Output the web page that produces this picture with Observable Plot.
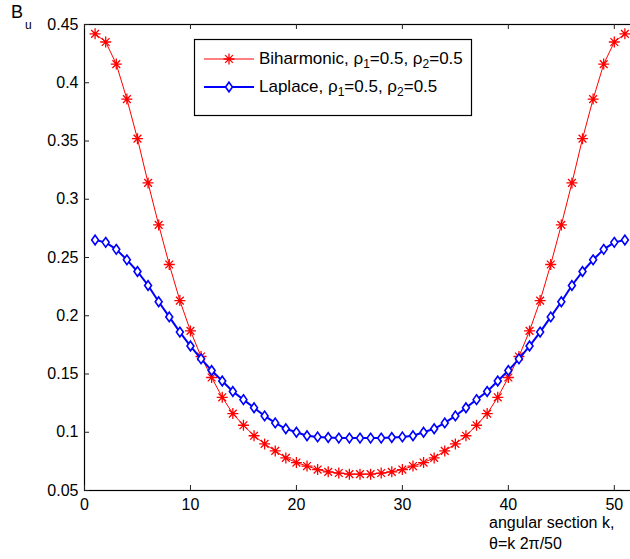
<!DOCTYPE html>
<html><head><meta charset="utf-8">
<script src="https://cdn.jsdelivr.net/npm/d3@7"></script>
<script src="https://cdn.jsdelivr.net/npm/@observablehq/plot@0.6"></script>
<style>
html,body{margin:0;padding:0;overflow:hidden;background:#fff;}
#chart{width:630px;height:559px;overflow:hidden;}
#chart svg{max-width:none !important;}
</style></head><body><div id="chart"></div>
<script>
// angular section k
const kValues = [1,2,3,4,5,6,7,8,9,10,11,12,13,14,15,16,17,18,19,20,21,22,23,24,25,26,
  27,28,29,30,31,32,33,34,35,36,37,38,39,40,41,42,43,44,45,46,47,48,49,50,51];
// Biharmonic, rho1=0.5, rho2=0.5
const biharmonic = [0.442,0.435,0.416,0.386,0.352,0.314,0.278,0.244,0.213,0.187,0.165,0.147,0.130,0.116,0.106,0.097,0.090,0.084,0.078,0.074,0.071,0.068,0.066,0.065,0.064,0.064,
  0.064,0.065,0.066,0.068,0.071,0.074,0.078,0.084,0.090,0.097,0.106,0.116,0.130,0.147,0.165,0.187,0.213,0.244,0.278,0.314,0.352,0.386,0.416,0.435,0.442];
// Laplace, rho1=0.5, rho2=0.5
const laplace = [0.265,0.263,0.257,0.248,0.238,0.226,0.212,0.199,0.186,0.174,0.163,0.153,0.144,0.135,0.128,0.121,0.114,0.108,0.103,0.100,0.097,0.096,0.0955,0.095,0.095,0.095,
  0.095,0.095,0.0955,0.096,0.097,0.100,0.103,0.108,0.114,0.121,0.128,0.135,0.144,0.153,0.163,0.174,0.186,0.199,0.212,0.226,0.238,0.248,0.257,0.263,0.265];
const xTicks = [0,10,20,30,40,50];
const yTicks = [0.05,0.1,0.15,0.2,0.25,0.3,0.35,0.4,0.45];
const yTickLabels = ["0.05","0.1","0.15","0.2","0.25","0.3","0.35","0.4","0.45"];
const seriesNames = ["Biharmonic", "Laplace"];
const seriesColors = ["#ff0000", "#0000ff"];

const W = 636, H = 559, mL = 84, mR = 1, mT = 24, mB = 69;
const innerW = W - mL - mR, innerH = H - mT - mB;
const FONT = "'Liberation Sans', Arial, Helvetica, sans-serif";

const data = kValues.map((k, i) => ({k, bih: biharmonic[i], lap: laplace[i]}));

const asterisk = {draw(ctx, size) {
  const r = Math.sqrt(size / Math.PI), d = r * Math.SQRT1_2;
  ctx.moveTo(-r, 0); ctx.lineTo(r, 0);
  ctx.moveTo(0, -r); ctx.lineTo(0, r);
  ctx.moveTo(-d, -d); ctx.lineTo(d, d);
  ctx.moveTo(-d, d); ctx.lineTo(d, -d);
}};
const diamond = {draw(ctx, size) {
  const r = Math.sqrt(size / Math.PI), w = r * 0.72;
  ctx.moveTo(0, -r); ctx.lineTo(w, 0); ctx.lineTo(0, r); ctx.lineTo(-w, 0); ctx.closePath();
}};

const svg = Plot.plot({
  width: W, height: H, marginLeft: mL, marginRight: mR, marginTop: mT, marginBottom: mB,
  style: {fontFamily: FONT, fontSize: "16px", color: "#000", background: "#fff", maxWidth: "none"},
  x: {domain: [0, 52], ticks: xTicks, tickSize: 0, tickPadding: 8, label: null, tickFormat: d => String(d)},
  y: {domain: [0.05, 0.45], ticks: yTicks, tickSize: 0, tickPadding: 6, label: null,
      tickFormat: d => yTickLabels[yTicks.indexOf(d)]},
  marks: [
    Plot.frame({stroke: "#000", strokeWidth: 1.2}),
    Plot.tickY(yTicks, {y: d => d, insetRight: innerW - 5, stroke: "#222"}),
    Plot.tickX(xTicks, {x: d => d, insetTop: innerH - 5, stroke: "#222"}),
    Plot.tickX(xTicks, {x: d => d, insetBottom: innerH - 5, stroke: "#222"}),
    Plot.line(data, {x: "k", y: "bih", stroke: seriesColors[0], strokeWidth: 1}),
    Plot.dot(data, {x: "k", y: "bih", symbol: asterisk, r: 5.5, stroke: seriesColors[0], fill: "none", strokeWidth: 1.3}),
    Plot.line(data, {x: "k", y: "lap", stroke: seriesColors[1], strokeWidth: 2}),
    Plot.dot(data, {x: "k", y: "lap", symbol: diamond, r: 4.8, stroke: seriesColors[1], fill: "#fff", strokeWidth: 1.6})
  ]
});
svg.style.maxWidth = "none";
document.getElementById("chart").appendChild(svg);

const s = d3.select(svg);
// y label B_u
const yl = s.append("text").attr("x", 11).attr("y", 18).attr("text-anchor", "start")
  .attr("font-family", FONT).attr("font-size", 18).attr("fill", "#000");
yl.append("tspan").text("B");
yl.append("tspan").attr("font-size", 12).attr("dy", 11).attr("dx", 2).text("u");

// x label
const xl = s.append("g").attr("font-family", FONT).attr("font-size", 16).attr("fill", "#000").attr("text-anchor", "start");
xl.append("text").attr("x", 489).attr("y", 528).text("angular section k,");
xl.append("text").attr("x", 489).attr("y", 549).text("θ=k 2π/50");

// legend
const lg = s.append("g").attr("font-family", FONT).attr("font-size", 17).attr("text-anchor", "start");
lg.append("rect").attr("x", 194.5).attr("y", 39.5).attr("width", 277).attr("height", 76)
  .attr("fill", "#fff").attr("stroke", "#000").attr("stroke-width", 1.2);
const rows = [
  {name: seriesNames[0], color: seriesColors[0], y: 59, sym: asterisk, sw: 1, msw: 1.3, fill: "none", r: 5.5},
  {name: seriesNames[1], color: seriesColors[1], y: 87, sym: diamond, sw: 2, msw: 1.6, fill: "#fff", r: 4.8}
];
rows.forEach(row => {
  lg.append("line").attr("x1", 204).attr("x2", 254).attr("y1", row.y).attr("y2", row.y)
    .attr("stroke", row.color).attr("stroke-width", row.sw);
  const p = d3.path(); row.sym.draw(p, row.r * row.r * Math.PI);
  lg.append("path").attr("d", p.toString()).attr("transform", `translate(229,${row.y})`)
    .attr("stroke", row.color).attr("fill", row.fill).attr("stroke-width", row.msw);
  const t = lg.append("text").attr("x", 259).attr("y", row.y + 5).attr("fill", "#000");
  t.append("tspan").text(row.name + ", ρ");
  t.append("tspan").attr("font-size", 12).attr("dy", 4).text("1");
  t.append("tspan").attr("dy", -4).text("=0.5, ρ");
  t.append("tspan").attr("font-size", 12).attr("dy", 4).text("2");
  t.append("tspan").attr("dy", -4).text("=0.5");
});
</script></body></html>
